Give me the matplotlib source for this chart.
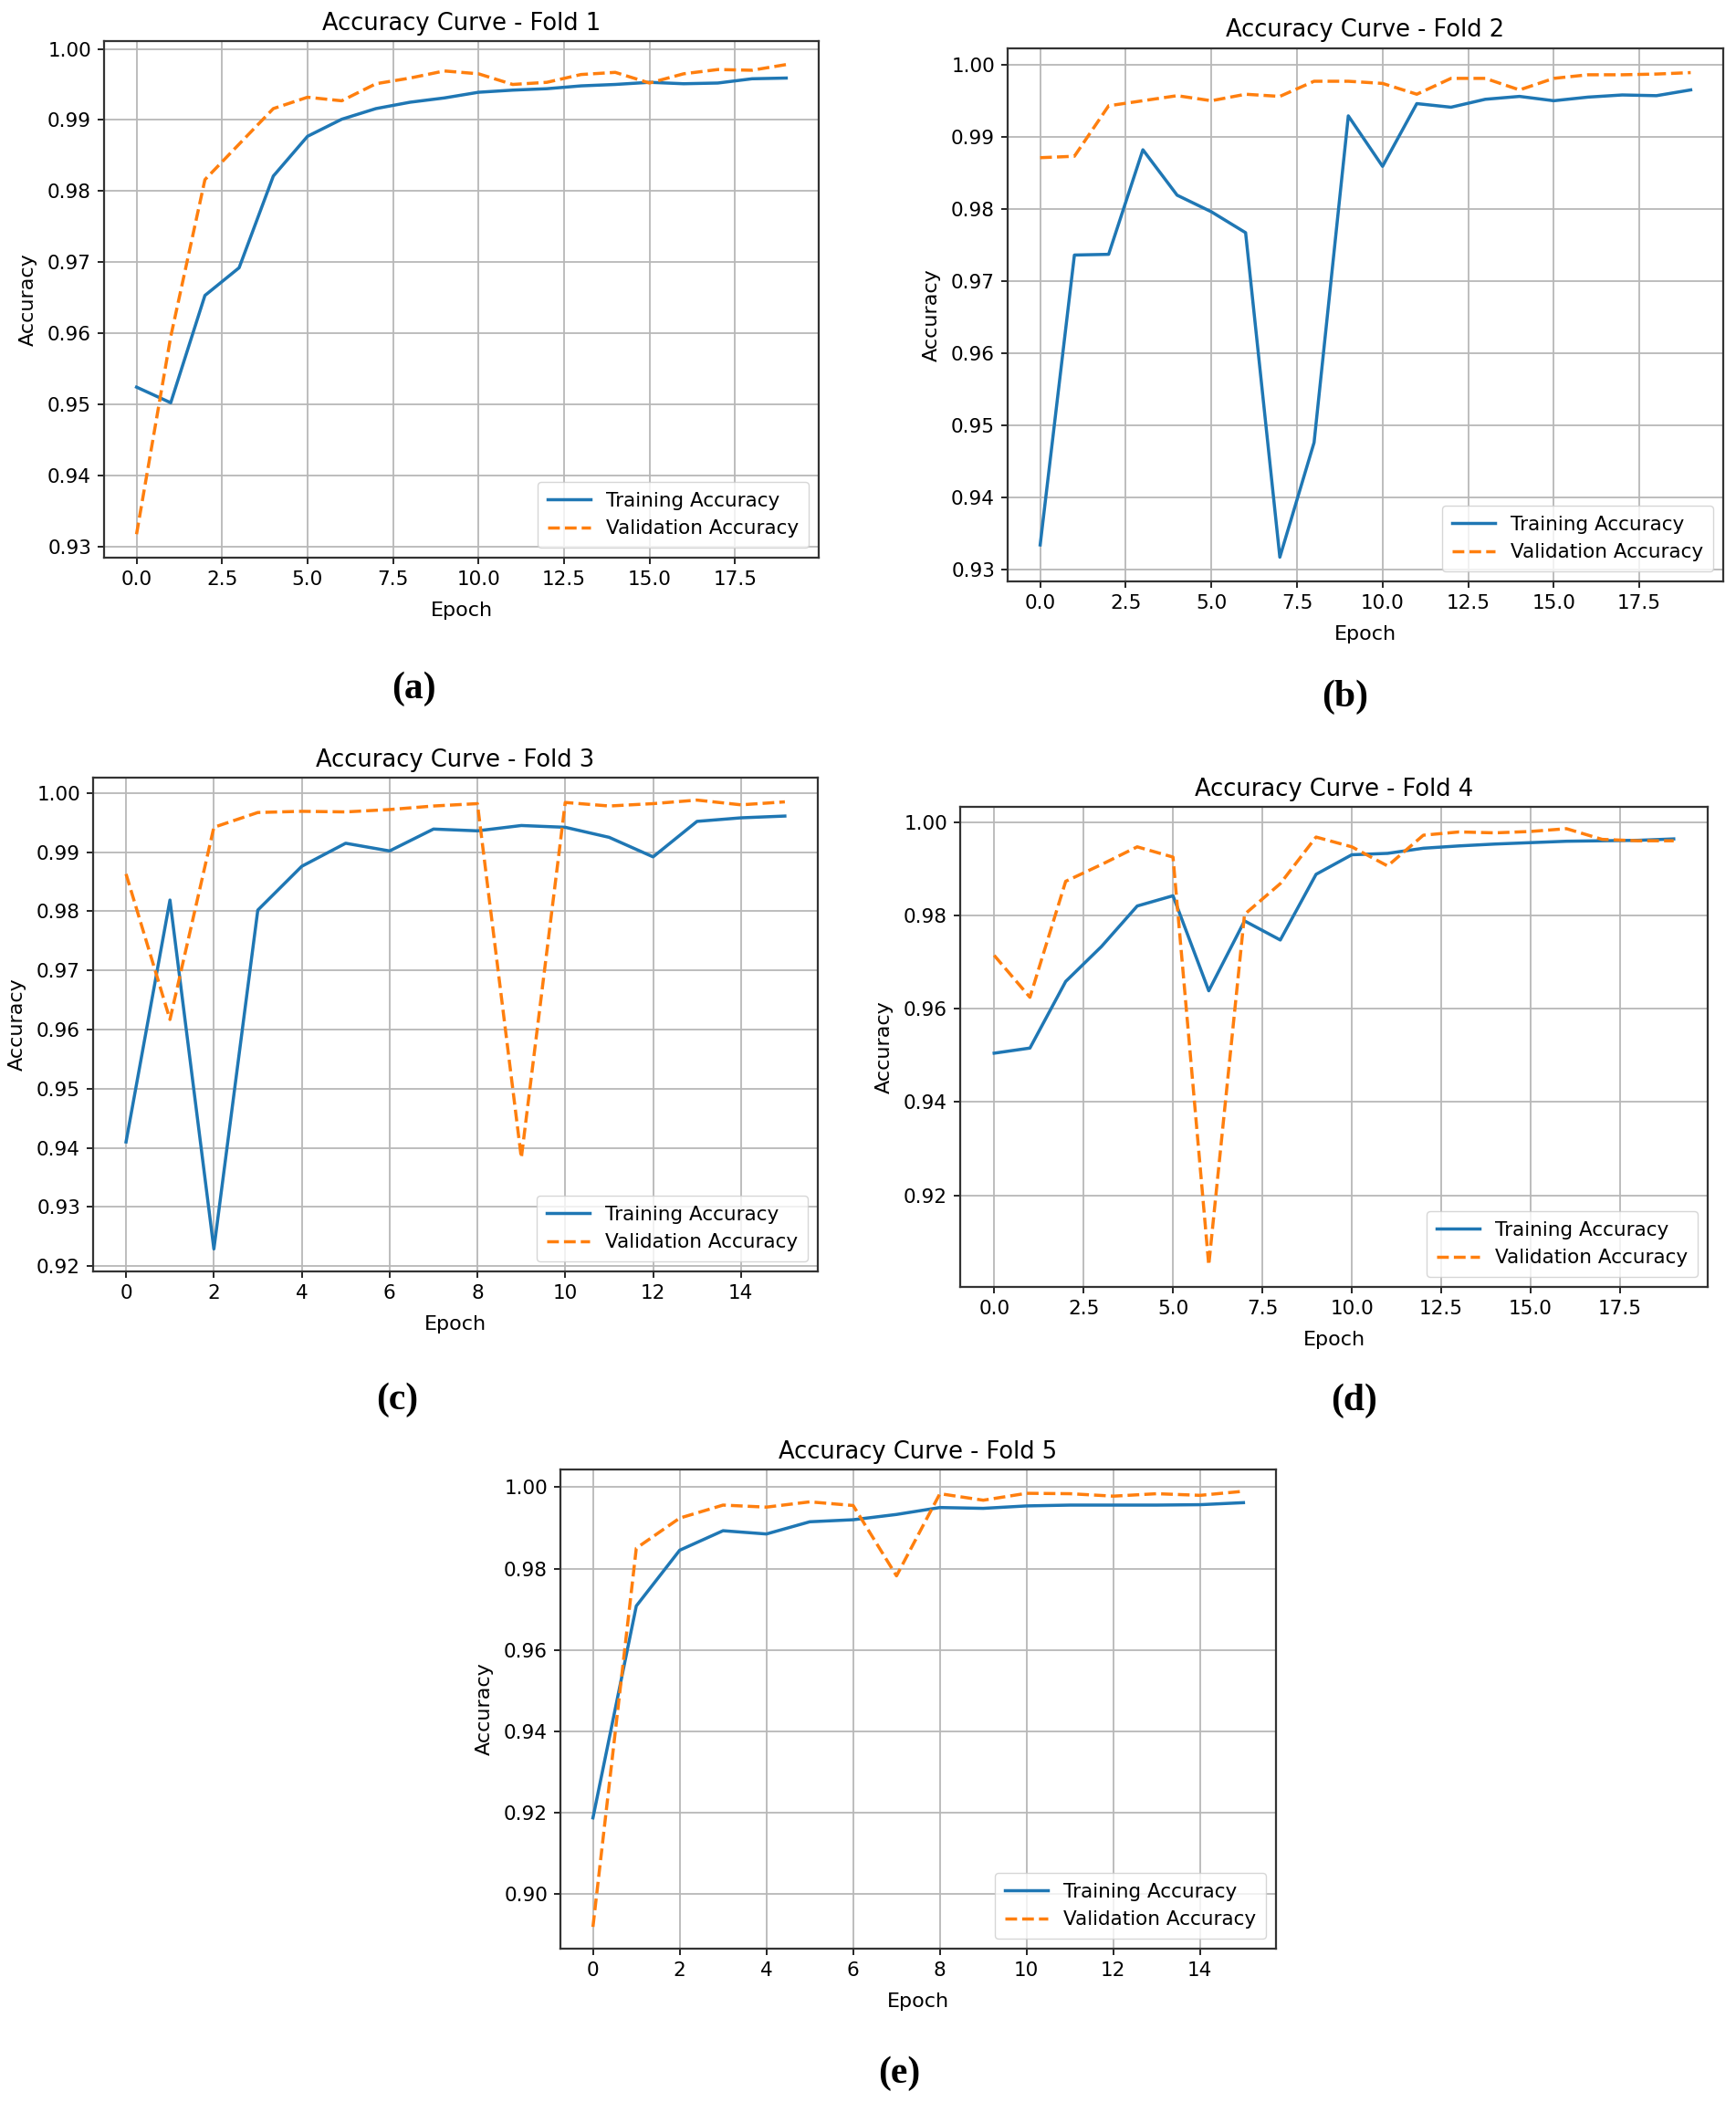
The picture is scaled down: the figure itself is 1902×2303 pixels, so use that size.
import numpy as np
import matplotlib.pyplot as plt

# ---- data ----
fold1_train = [0.9524, 0.9502, 0.9653, 0.9692, 0.9821, 0.9877, 0.9901, 0.9916, 0.9925, 0.9931,
               0.9939, 0.9942, 0.9944, 0.9948, 0.9950, 0.9953, 0.9951, 0.9952, 0.9958, 0.9959]
fold1_val = [0.9317, 0.9595, 0.9816, 0.9866, 0.9916, 0.9932, 0.9927, 0.9951, 0.9959, 0.9969,
             0.9965, 0.9950, 0.9953, 0.9964, 0.9967, 0.9952, 0.9965, 0.9971, 0.9970, 0.9978]

fold2_train = [0.9334, 0.9736, 0.9737, 0.9882, 0.9819, 0.9796, 0.9767, 0.9317, 0.9476, 0.9929,
               0.9859, 0.9946, 0.9941, 0.9952, 0.9956, 0.9950, 0.9955, 0.9958, 0.9957, 0.9965]
fold2_val = [0.9871, 0.9873, 0.9943, 0.9950, 0.9957, 0.9950, 0.9959, 0.9956, 0.9977, 0.9977,
             0.9974, 0.9959, 0.9981, 0.9981, 0.9965, 0.9981, 0.9986, 0.9986, 0.9987, 0.9989]

fold3_train = [0.9410, 0.9819, 0.9229, 0.9802, 0.9876, 0.9915, 0.9902, 0.9939, 0.9936, 0.9945,
               0.9942, 0.9925, 0.9892, 0.9952, 0.9958, 0.9961]
fold3_val = [0.9863, 0.9617, 0.9942, 0.9967, 0.9969, 0.9968, 0.9972, 0.9978, 0.9982, 0.9383,
             0.9984, 0.9978, 0.9982, 0.9988, 0.9980, 0.9985]

fold4_train = [0.9505, 0.9516, 0.9659, 0.9734, 0.9821, 0.9843, 0.9639, 0.9789, 0.9748, 0.9889,
               0.9931, 0.9934, 0.9945, 0.9950, 0.9954, 0.9957, 0.9960, 0.9961, 0.9962, 0.9965]
fold4_val = [0.9715, 0.9625, 0.9874, 0.9910, 0.9948, 0.9926, 0.9050, 0.9803, 0.9869, 0.9969,
             0.9948, 0.9907, 0.9973, 0.9980, 0.9978, 0.9981, 0.9987, 0.9964, 0.9961, 0.9961]

fold5_train = [0.9187, 0.9708, 0.9845, 0.9893, 0.9885, 0.9915, 0.9920, 0.9933, 0.9950, 0.9948,
               0.9954, 0.9956, 0.9956, 0.9956, 0.9957, 0.9962]
fold5_val = [0.8919, 0.9850, 0.9924, 0.9956, 0.9951, 0.9964, 0.9955, 0.9782, 0.9984, 0.9968,
             0.9985, 0.9984, 0.9978, 0.9984, 0.9980, 0.9990]

folds = [(fold1_train, fold1_val), (fold2_train, fold2_val), (fold3_train, fold3_val),
         (fold4_train, fold4_val), (fold5_train, fold5_val)]
panel_letters = ['(a)', '(b)', '(c)', '(d)', '(e)']

# ---- layout (pixel boxes: left, top, right, bottom) ----
W, H = 1902, 2303
boxes = [(114, 45, 897, 611), (1104, 53, 1888, 637), (102, 852, 896, 1393),
         (1052, 884, 1871, 1410), (614, 1610, 1398, 2135)]
letter_pos = [(453, 755), (1474, 764), (435, 1534), (1484, 1535), (985, 2272)]

fig = plt.figure(figsize=(W / 100, H / 100), dpi=100)

for i, (tr, va) in enumerate(folds):
    l, t, r, b = boxes[i]
    ax = fig.add_axes([l / W, 1 - b / H, (r - l) / W, (b - t) / H])
    epochs = np.arange(len(tr))
    ax.plot(epochs, tr, color='#1f77b4', lw=2.5, label='Training Accuracy')
    ax.plot(epochs, va, color='#ff7f0e', lw=2.5, ls='--', label='Validation Accuracy')
    ax.set_title('Accuracy Curve - Fold %d' % (i + 1), fontsize=18.5, pad=9)
    ax.set_xlabel('Epoch', fontsize=16, labelpad=10)
    ax.set_ylabel('Accuracy', fontsize=16, labelpad=8)
    ax.tick_params(labelsize=15.5, length=5, width=1.2, pad=5)
    ax.grid(True, lw=1.3, color='#b8b8b8')
    for s in ax.spines.values():
        s.set_linewidth(1.6)
        s.set_color('#333333')
    ax.legend(loc='lower right', fontsize=15.5, handlelength=2.2, borderpad=0.5)
    fig.text(letter_pos[i][0] / W, 1 - letter_pos[i][1] / H, panel_letters[i],
             ha='center', va='center', fontsize=30, fontweight='bold',
             family='Liberation Serif')

fig.savefig('out.png', dpi=100)
